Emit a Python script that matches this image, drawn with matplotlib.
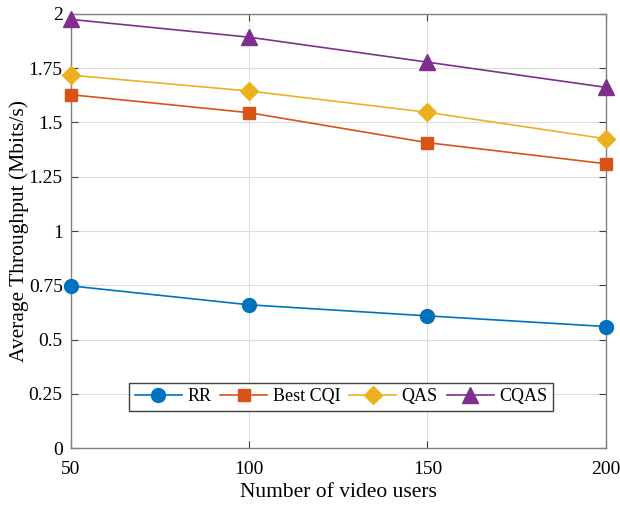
import matplotlib
matplotlib.use("Agg")
import matplotlib.pyplot as plt

users = [50, 100, 150, 200]
rr = [0.747, 0.66, 0.609, 0.56]
best_cqi = [1.628, 1.545, 1.407, 1.31]
qas = [1.718, 1.645, 1.547, 1.425]
cqas = [1.975, 1.893, 1.778, 1.662]
yticks = [0, 0.25, 0.5, 0.75, 1, 1.25, 1.5, 1.75, 2]
ytick_labels = ["0", "0.25", "0.5", "0.75", "1", "1.25", "1.5", "1.75", "2"]
xticks = [50, 100, 150, 200]

plt.rcParams['font.family'] = ['Liberation Serif', 'DejaVu Serif']
fig = plt.figure(figsize=(6.2, 5.08), dpi=100)
ax = fig.add_axes([0.1145, 0.118, 0.8625, 0.8545])

kw = dict(lw=1.2, clip_on=False, zorder=3)
ax.plot(users, rr, color='#0072BD', marker='o', ms=10, label='RR', **kw)
ax.plot(users, best_cqi, color='#D95319', marker='s', ms=9, label='Best CQI', **kw)
ax.plot(users, qas, color='#EDB120', marker='D', ms=9, label='QAS', **kw)
ax.plot(users, cqas, color='#7E2F8E', marker='^', ms=11, label='CQAS', **kw)

ax.set_xlim(50, 200)
ax.set_ylim(0, 2)
ax.set_xticks(xticks)
ax.set_yticks(yticks)
ax.set_yticklabels(ytick_labels)
ax.grid(True, color='#dddddd', lw=0.8)
ax.set_axisbelow(True)
for s in ax.spines.values():
    s.set_color('#808080')
    s.set_linewidth(1.0)
ax.tick_params(direction='in', top=True, right=True, labelsize=14, color='#404040', length=5)
ax.tick_params(axis='y', pad=6)
ax.tick_params(axis='x', pad=9)
ax.set_xlabel('Number of video users', fontsize=15.5, labelpad=4)
ax.set_ylabel('Average Throughput (Mbits/s)', fontsize=15.5, labelpad=0)

leg = ax.legend(loc='center', bbox_to_anchor=(0.505, 0.118), ncol=4, fontsize=13,
                frameon=True, fancybox=False, edgecolor='#404040', framealpha=1,
                handlelength=2.6, columnspacing=0.5, handletextpad=0.3, borderpad=0.3,
                borderaxespad=0)
leg.get_frame().set_linewidth(1.0)

fig.savefig('out.png', dpi=100)
